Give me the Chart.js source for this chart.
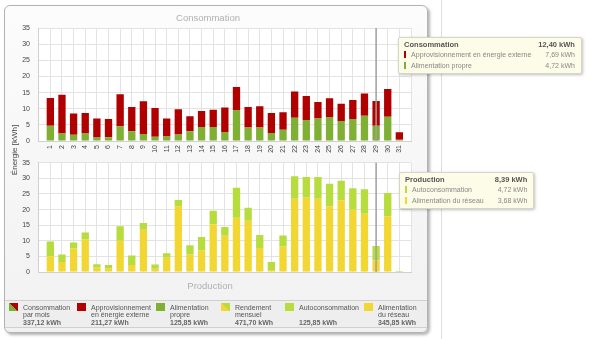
<!DOCTYPE html>
<html>
<head>
<meta charset="utf-8">
<script src="https://cdn.jsdelivr.net/npm/chart.js@4/dist/chart.umd.min.js"></script>
<style>
body{margin:0;width:600px;height:339px;overflow:hidden;position:relative;background:#fff;font-family:"Liberation Sans",Arial,sans-serif}
#sep{position:absolute;left:441px;top:0;width:1px;height:339px;background:#dedede}
#panel{position:absolute;left:4px;top:5px;width:422px;height:326px;border:1px solid #b3b3b3;border-radius:6px;
 background:linear-gradient(#fcfcfc,#f1f1f1);box-shadow:2px 2px 3px rgba(0,0,0,.3)}
#legendBand{position:absolute;left:5px;top:300px;width:422px;height:26px;border-top:1px solid #d0d0d0;border-bottom:1px solid #d0d0d0;background:#eeeeee}
canvas{position:absolute;left:0}
#c1{top:0}
#c2{top:145px}
.ttl{position:absolute;color:#b0b0b0;font-size:9.5px;transform:translateX(-50%);white-space:nowrap}
#ytitle{position:absolute;left:14px;top:150px;font-size:8px;color:#444;transform:translate(-50%,-50%) rotate(-90deg);white-space:nowrap}
.lg{position:absolute;top:303.5px;font-size:7px;line-height:7.8px;color:#555;white-space:nowrap}
.lg b{color:#666}
.ic{position:absolute;top:303px;width:9px;height:8px}
.tip{position:absolute;background:#fcfce8;border:1px solid #d6d6c4;border-radius:2px;box-shadow:1px 1px 3px rgba(0,0,0,.25);
 padding:2px 6px 2px 5px;font-size:7px;line-height:10.3px;color:#888;white-space:nowrap}
.tip .r{display:flex;justify-content:space-between;align-items:center}
.tip .h{font-weight:bold;color:#555;font-size:7.5px}
.tip .m{display:inline-block;width:2px;height:7px;margin-right:5px;vertical-align:-1px}
</style>
</head>
<body>
<div id="sep"></div>
<div id="panel"></div>
<div id="legendBand"></div>
<canvas id="c1" width="430" height="160"></canvas>
<canvas id="c2" width="430" height="140"></canvas>
<div class="ttl" style="left:208px;top:12px">Consommation</div>
<div class="ttl" style="left:210px;top:280px">Production</div>
<div id="ytitle">Énergie [kWh]</div>
<div id="legend"></div>
<div id="tip1" class="tip"></div>
<div id="tip2" class="tip"></div>

<script>
// jours du mois
const jours = [1,2,3,4,5,6,7,8,9,10,11,12,13,14,15,16,17,18,19,20,21,22,23,24,25,26,27,28,29,30,31];

// consommation (kWh)
const approExterne = [8.6,11.95,6.55,6.4,5.95,5.65,9.9,7.45,10.15,8.85,5.6,7.8,4.7,5.0,5.4,7.55,7.1,6.3,6.65,6.2,5.45,8.1,7.4,5.15,6.0,5.3,5.85,6.85,7.685,8.6,2.35];
const alimPropre = [4.7,2.35,1.95,2.3,1.05,1.15,4.6,3.05,2.15,1.35,1.4,2.0,3.0,4.3,4.3,2.8,9.6,4.2,4.15,2.5,3.45,7.2,6.5,6.95,7.25,6.2,6.85,7.85,4.715,7.5,0.35];

// production (kWh)
const autoconso = alimPropre;
const reseau = [5.1,3.25,7.55,10.4,1.45,1.15,10.05,2.25,13.55,1.05,4.6,21.1,5.6,6.95,15.3,11.65,17.4,16.4,7.75,0.7,8.25,23.45,23.9,23.45,21.05,23.0,19.95,18.65,3.675,17.8,0];

// totaux du mois (legende)
const totauxLegende = [337.12,211.27,125.85,471.70,125.85,345.85];
const nomsLegende = [["Consommation","par mois"],["Approvisionnement","en énergie externe"],["Alimentation","propre"],["Rendement","mensuel"],["Autoconsommation",""],["Alimentation","du réseau"]];

const yTicks = [0,5,10,15,20,25,30,35];
const jourSurvol = 29;

const ROUGE = "#b00000", VERT = "#7fb034", JAUNE = "#f2d733", CITRON = "#b6dc3e";

function fmt(v){
  return (Math.round(v*100+1e-6)/100).toFixed(2).replace(".",",") + " kWh";
}

function pts(arr){
  return jours.map((j,i) => ({x:j, y:arr[i]}));
}

// fond blanc + ligne de survol
const fondPlugin = {
  id:"fond",
  beforeDraw(chart){
    const a = chart.chartArea, ctx = chart.ctx;
    ctx.save(); ctx.fillStyle = "#fff";
    ctx.fillRect(a.left, a.top, a.right-a.left, a.bottom-a.top);
    ctx.restore();
  },
  afterDatasetsDraw(chart){
    const a = chart.chartArea, ctx = chart.ctx;
    const x = chart.scales.x.getPixelForValue(jourSurvol);
    ctx.save(); ctx.strokeStyle = "#a0a0a0"; ctx.lineWidth = 1.5;
    ctx.beginPath(); ctx.moveTo(x, a.top); ctx.lineTo(x, a.bottom); ctx.stroke();
    ctx.restore();
  }
};

function options(pad, xHeight, showX){
  return {
    responsive:false,
    animation:false,
    layout:{padding:pad},
    plugins:{legend:{display:false}, tooltip:{enabled:false}, title:{display:false}},
    scales:{
      x:{
        type:"linear", min:0, max:32, stacked:true, offset:false,
        grid:{color:"#e3e3e3", offset:false, drawTicks:false},
        border:{color:"#d0d0d0"},
        ticks:{
          display:showX, stepSize:1, autoSkip:false, minRotation:90, maxRotation:90, padding:4,
          color:"#444", font:{family:"Liberation Sans", size:7},
          callback:v => (v>=1 && v<=jours.length) ? String(jours[v-1]) : ""
        },
        afterFit(s){ s.height = xHeight; }
      },
      y:{
        min:0, max:35, stacked:true,
        grid:{color:"#e3e3e3", drawTicks:false},
        border:{color:"#d0d0d0"},
        afterBuildTicks(s){ s.ticks = yTicks.map(v => ({value:v})); },
        ticks:{padding:8.7, color:"#444", font:{family:"Liberation Sans", size:7}},
        afterFit(s){ s.width = 38.7; }
      }
    }
  };
}

const barStyle = {barPercentage:0.63, categoryPercentage:1, borderWidth:0};

const ch1 = new Chart(document.getElementById("c1"), {
  type:"bar",
  data:{datasets:[
    Object.assign({label:"Alimentation propre", data:pts(alimPropre), backgroundColor:VERT}, barStyle),
    Object.assign({label:"Approvisionnement en énergie externe", data:pts(approExterne), backgroundColor:ROUGE}, barStyle)
  ]},
  options:options({top:28,right:19,left:0,bottom:0}, 19, true),
  plugins:[fondPlugin]
});

const ch2 = new Chart(document.getElementById("c2"), {
  type:"bar",
  data:{datasets:[
    Object.assign({label:"Alimentation du réseau", data:pts(reseau), backgroundColor:JAUNE}, barStyle),
    Object.assign({label:"Autoconsommation", data:pts(autoconso), backgroundColor:CITRON}, barStyle)
  ]},
  options:options({top:17.7,right:19,left:0,bottom:9.3}, 0, false),
  plugins:[fondPlugin]
});

// -------- legende
const icones = [
  "linear-gradient(to top right," + VERT + " 50%," + ROUGE + " 50%)",
  ROUGE, VERT,
  "linear-gradient(to top right," + JAUNE + " 50%," + CITRON + " 50%)",
  CITRON, JAUNE
];
const icX = [9,77,156,221,285,364];
let html = "";
nomsLegende.forEach((n,i) => {
  html += '<div class="ic" style="left:'+icX[i]+'px;background:'+icones[i]+'"></div>';
  html += '<div class="lg" style="left:'+(icX[i]+14)+'px">'+n[0]+'<br>'+(n[1]||"&nbsp;")+'<br><b>'+fmt(totauxLegende[i])+'</b></div>';
});
document.getElementById("legend").innerHTML = html;

// -------- infobulles du jour 29
const k = jourSurvol-1;
function ligne(c, t, v){
  return '<div class="r"><span><span class="m" style="background:'+c+'"></span>'+t+'</span><span style="margin-left:14px">'+fmt(v)+'</span></div>';
}
const t1 = document.getElementById("tip1");
t1.innerHTML = '<div class="r h"><span>Consommation</span><span>'+fmt(approExterne[k]+alimPropre[k])+'</span></div>'
  + ligne(ROUGE, "Approvisionnement en énergie externe", approExterne[k])
  + ligne(VERT, "Alimentation propre", alimPropre[k]);
t1.style.left = (ch1.scales.x.getPixelForValue(jourSurvol)+22)+"px";
t1.style.top = "37px";

const t2 = document.getElementById("tip2");
t2.innerHTML = '<div class="r h"><span>Production</span><span>'+fmt(autoconso[k]+reseau[k])+'</span></div>'
  + ligne(CITRON, "Autoconsommation", autoconso[k])
  + ligne(JAUNE, "Alimentation du réseau", reseau[k]);
t2.style.left = (ch2.scales.x.getPixelForValue(jourSurvol)+23)+"px";
t2.style.top = "172px";
</script>
</body>
</html>
